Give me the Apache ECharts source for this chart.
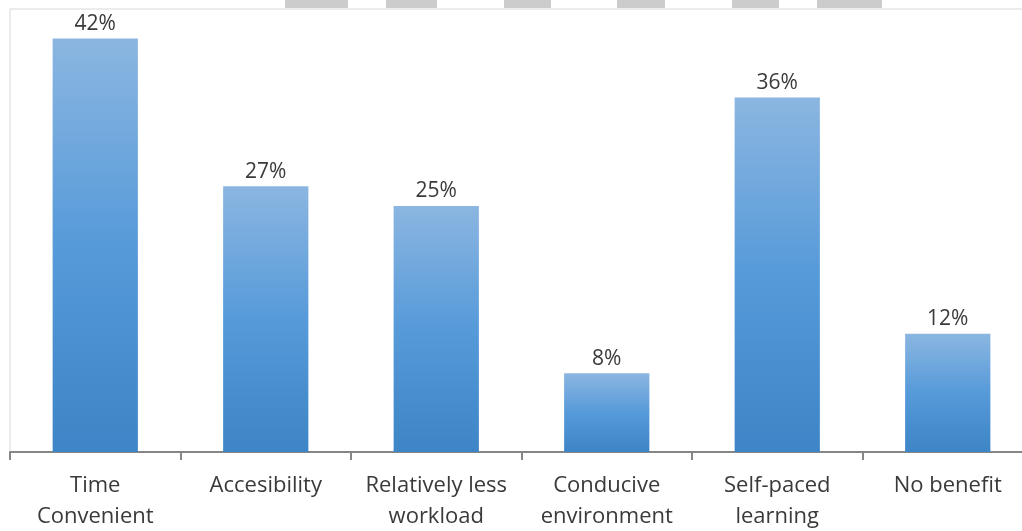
<!DOCTYPE html>
<html>
<head>
<meta charset="utf-8">
<script src="https://cdn.jsdelivr.net/npm/echarts@6/dist/echarts.min.js"></script>
<style>
  html, body { margin: 0; padding: 0; background: #ffffff; }
  #chart { width: 1022px; height: 531px; }
</style>
</head>
<body>
<div id="chart"></div>
<script>
// Reported benefits of online learning (share of respondents, %)
const categories = [
  'Time\nConvenient',
  'Accesibility',
  'Relatively less\nworkload',
  'Conducive\nenvironment',
  'Self-paced\nlearning',
  'No benefit'
];
const shares = [42, 27, 25, 8, 36, 12];

// Grey tabs along the top edge: [left, right] in pixels
const topTabs = [[285, 348], [386, 437], [504, 551], [617, 665], [732, 779], [817, 882]];

const chart = echarts.init(document.getElementById('chart'), null, { renderer: 'canvas' });

const textColor = '#3a3a3a';
const fontFamily = '"Open Sans", "Noto Sans", sans-serif';

chart.setOption({
  animation: false,
  backgroundColor: '#ffffff',
  grid: {
    left: 10,
    top: 9,
    right: -11,
    bottom: 79,
    outerBoundsMode: 'none',
    containLabel: false,
    show: true,
    borderColor: '#d9d9d9',
    borderWidth: 1,
    backgroundColor: 'transparent'
  },
  xAxis: {
    type: 'category',
    data: categories,
    axisLine: { show: true, lineStyle: { color: '#868686', width: 2 } },
    axisTick: { show: true, length: 8, alignWithLabel: false, lineStyle: { color: '#868686', width: 2 } },
    axisLabel: {
      interval: 0,
      margin: 18,
      color: textColor,
      fontFamily: fontFamily,
      fontSize: 22,
      lineHeight: 31
    }
  },
  yAxis: {
    type: 'value',
    min: 0,
    max: 45,
    show: false,
    splitLine: { show: false }
  },
  series: [{
    type: 'bar',
    data: shares,
    barWidth: '50%',
    itemStyle: {
      color: new echarts.graphic.LinearGradient(0, 0, 0, 1, [
        { offset: 0, color: '#8bb6e1' },
        { offset: 0.5, color: '#569ad9' },
        { offset: 1, color: '#3d85c6' }
      ])
    },
    label: {
      show: true,
      position: 'top',
      distance: 4,
      formatter: '{c}%',
      color: textColor,
      fontFamily: fontFamily,
      fontSize: 21
    }
  }],
  graphic: topTabs.map(([x0, x1]) => ({
    type: 'rect',
    shape: { x: x0, y: 0, width: x1 - x0, height: 8 },
    style: { fill: '#cccccc' },
    silent: true
  }))
});
</script>
</body>
</html>
